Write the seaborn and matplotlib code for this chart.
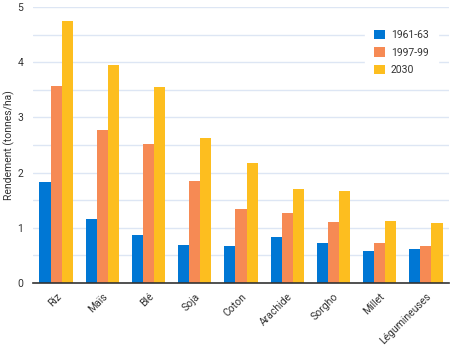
import matplotlib
matplotlib.use("Agg")
import matplotlib.pyplot as plt
import seaborn as sns
import pandas as pd
import numpy as np

categories = ["Riz", "Maïs", "Blé", "Soja", "Coton", "Arachide", "Sorgho", "Millet", "Légumineuses"]
series_names = ["1961-63", "1997-99", "2030"]
v_1961 = [1.83, 1.16, 0.87, 0.69, 0.67, 0.83, 0.73, 0.58, 0.62]
v_1997 = [3.57, 2.77, 2.52, 1.85, 1.34, 1.27, 1.11, 0.73, 0.67]
v_2030 = [4.75, 3.95, 3.55, 2.63, 2.17, 1.70, 1.67, 1.12, 1.09]
colors = ["#0077D4", "#F68A54", "#FDBE1F"]
yticks = [0, 1, 2, 3, 4, 5]

rows = []
for name, vals in zip(series_names, [v_1961, v_1997, v_2030]):
    for c, v in zip(categories, vals):
        rows.append({"cat": c, "serie": name, "val": v})
df = pd.DataFrame(rows)

sns.set_style("white")
plt.rcParams['font.family'] = ['Roboto', 'DejaVu Sans']

fig = plt.figure(figsize=(4.64, 3.48), dpi=100)
ax = fig.add_axes([0.0711, 0.1868, 0.8966, 0.7931])

sns.barplot(data=df, x="cat", y="val", hue="serie", order=categories,
            hue_order=series_names, palette=colors, width=0.72,
            saturation=1, gap=0, linewidth=0, edgecolor="none",
            ax=ax, legend=True)

ax.set_ylim(0, 5)
ax.set_xlim(-0.5, len(categories) - 0.5)
ax.set_yticks(yticks)
ax.set_yticks(np.arange(0, 5.01, 0.5), minor=True)
ax.yaxis.grid(True, which="both", color="#DDE6F4", linewidth=1)
ax.set_axisbelow(True)
ax.tick_params(axis="y", which="both", length=0, labelsize=7.5, labelcolor="#333333", pad=7)

ax.set_xticks(range(len(categories)))
ax.set_xticklabels(categories, rotation=45, ha="right", rotation_mode="anchor",
                   fontsize=7.5, color="#333333")
ax.tick_params(axis="x", which="major", length=0, pad=6)
ax.set_xticks(np.arange(0.5, len(categories) - 0.4, 1), minor=True)
ax.tick_params(axis="x", which="minor", length=4, width=1, color="#333333", direction="out")

for s in ["top", "right", "left"]:
    ax.spines[s].set_visible(False)
ax.spines["bottom"].set_color("#333333")
ax.spines["bottom"].set_linewidth(1.2)

ax.set_xlabel("")
ax.set_ylabel("Rendement (tonnes/ha)", fontsize=7.5, color="#333333")
ax.yaxis.set_label_coords(-0.043, 0.5)

leg = ax.legend(loc="upper left", bbox_to_anchor=(0.785, 0.97), frameon=True,
                fontsize=7.5, handlelength=1.0, handleheight=1.0,
                handletextpad=0.6, labelspacing=0.7, borderpad=0.9)
leg.get_frame().set_facecolor("white")
leg.get_frame().set_edgecolor("white")
leg.get_frame().set_alpha(1)
for t in leg.get_texts():
    t.set_color("#333333")

fig.savefig("out.png", dpi=100)
